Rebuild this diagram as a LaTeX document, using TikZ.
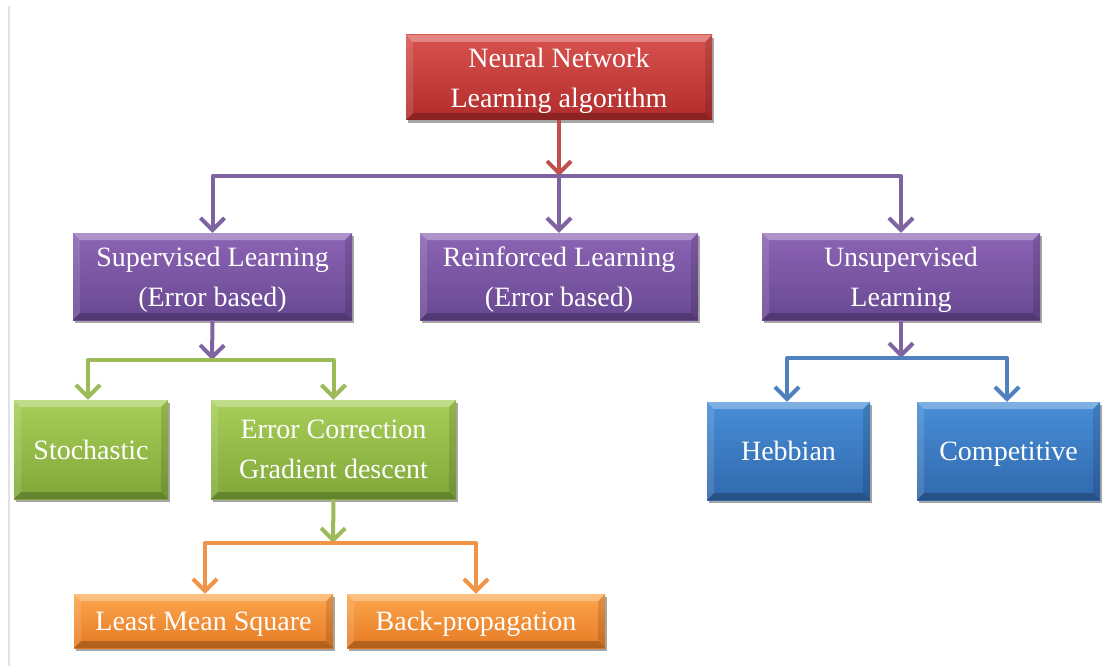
\documentclass[tikz,border=0pt]{standalone}
\usepackage{fontspec}
\setmainfont{Liberation Serif}
\usetikzlibrary{arrows.meta,shadows}

\definecolor{redA}{RGB}{216,82,78}\definecolor{redB}{RGB}{178,44,44}
\definecolor{purA}{RGB}{140,100,180}\definecolor{purB}{RGB}{104,72,146}
\definecolor{grnA}{RGB}{168,206,88}\definecolor{grnB}{RGB}{128,168,58}
\definecolor{bluA}{RGB}{72,142,216}\definecolor{bluB}{RGB}{48,104,172}
\definecolor{orgA}{RGB}{252,166,76}\definecolor{orgB}{RGB}{230,122,36}
\definecolor{lnRed}{RGB}{192,80,77}
\definecolor{lnPur}{RGB}{128,100,162}
\definecolor{lnGrn}{RGB}{155,187,89}
\definecolor{lnBlu}{RGB}{79,129,189}
\definecolor{lnOrg}{RGB}{242,148,72}

\tikzset{
  boxbase/.style={rectangle, inner sep=0pt, text=white, align=center,
    font=\fontsize{28}{40}\selectfont, text depth=0pt,
    drop shadow={shadow xshift=2pt, shadow yshift=-3pt, opacity=.35, fill=black},
    path picture={
      \path (path picture bounding box.north west) coordinate (pNW)
            (path picture bounding box.north east) coordinate (pNE)
            (path picture bounding box.south east) coordinate (pSE)
            (path picture bounding box.south west) coordinate (pSW);
      \fill[white,opacity=.30] (pNW) -- (pNE) -- ([shift={(-7pt,-7pt)}]pNE) -- ([shift={(7pt,-7pt)}]pNW) -- cycle;
      \fill[white,opacity=.12] (pNW) -- ([shift={(7pt,-7pt)}]pNW) -- ([shift={(7pt,7pt)}]pSW) -- (pSW) -- cycle;
      \fill[black,opacity=.12] (pNE) -- (pSE) -- ([shift={(-7pt,7pt)}]pSE) -- ([shift={(-7pt,-7pt)}]pNE) -- cycle;
      \fill[black,opacity=.22] (pSW) -- (pSE) -- ([shift={(-7pt,7pt)}]pSE) -- ([shift={(7pt,7pt)}]pSW) -- cycle;
    }},
  redbox/.style={boxbase, top color=redA, bottom color=redB},
  purbox/.style={boxbase, top color=purA, bottom color=purB},
  grnbox/.style={boxbase, top color=grnA, bottom color=grnB},
  blubox/.style={boxbase, top color=bluA, bottom color=bluB},
  orgbox/.style={boxbase, top color=orgA, bottom color=orgB},
  conn/.style={line width=4pt, line join=round},
  tip/.style={conn, -{Straight Barb[length=12pt,width=24pt]}},
}

\begin{document}
\begin{tikzpicture}[x=1pt,y=-1pt]
  \useasboundingbox (0,0) rectangle (1104,666);
  % page edge on the left
  \draw[gray!22, line width=1.5pt] (9,6) -- (9,666);

  % boxes
  \node[redbox, minimum width=306pt, minimum height=85pt] (root) at (559,77.5) {Neural Network\\Learning algorithm};
  \node[purbox, minimum width=279pt, minimum height=87pt] (sup) at (212.5,276.5) {Supervised Learning\\(Error based)};
  \node[purbox, minimum width=278pt, minimum height=87pt] (rein) at (559,276.5) {Reinforced Learning\\(Error based)};
  \node[purbox, minimum width=278pt, minimum height=87pt] (unsup) at (901,276.5) {Unsupervised\\Learning};
  \node[grnbox, minimum width=154pt, minimum height=99pt] (stoch) at (91,449.5) {Stochastic};
  \node[grnbox, minimum width=245pt, minimum height=99pt] (errc) at (333.5,449.5) {Error Correction\\Gradient descent};
  \node[orgbox, minimum width=259pt, minimum height=54pt] (lms) at (203.5,621) {Least Mean Square};
  \node[orgbox, minimum width=258pt, minimum height=54pt] (bp) at (476,621) {Back-propagation};
  \node[blubox, minimum width=163pt, minimum height=98pt] (hebb) at (788.5,451) {Hebbian};
  \node[blubox, minimum width=183pt, minimum height=98pt] (comp) at (1008.5,451) {Competitive};

  % branching points
  \coordinate (j1) at (559,176);
  \coordinate (j2) at (212,360);
  \coordinate (j3) at (333,543);
  \coordinate (j4) at (901,358);

  % level 1
  \draw[tip, lnRed] (root.south) -- (j1);
  \draw[tip, lnPur] (j1) -| (sup.north);
  \draw[tip, lnPur] (j1) -| (unsup.north);
  \draw[tip, lnPur] (j1) -- (rein.north);

  % supervised branch
  \draw[tip, lnPur] (sup.south) -- (j2);
  \draw[tip, lnGrn] (j2) -| ([xshift=-3pt]stoch.north);
  \draw[tip, lnGrn] (j2) -| (errc.north);

  % error correction branch
  \draw[tip, lnGrn] (errc.south) -- (j3);
  \draw[tip, lnOrg] (j3) -| ([xshift=1.5pt]lms.north);
  \draw[tip, lnOrg] (j3) -| (bp.north);

  % unsupervised branch
  \draw[tip, lnPur] (unsup.south) -- (j4);
  \draw[tip, lnBlu] (j4) -| ([xshift=-1.5pt]hebb.north);
  \draw[tip, lnBlu] (j4) -| ([xshift=-1.5pt]comp.north);
\end{tikzpicture}
\end{document}
